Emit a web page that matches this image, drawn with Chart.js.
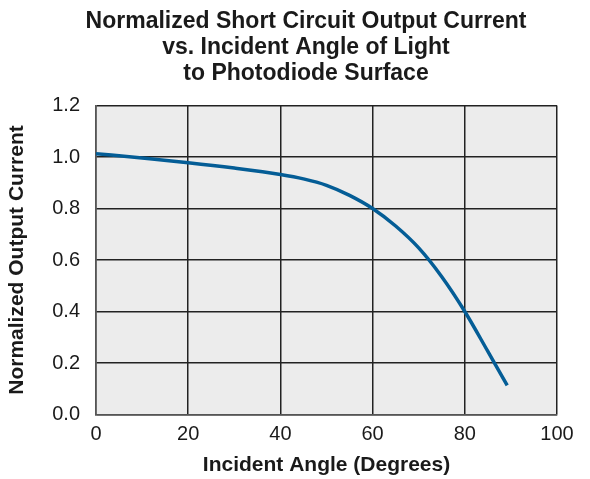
<!DOCTYPE html>
<html>
<head>
<meta charset="utf-8">
<script src="https://cdn.jsdelivr.net/npm/chart.js@4.4.1/dist/chart.umd.min.js"></script>
<style>
  html, body { margin: 0; padding: 0; background: #fff; }
  #wrap { width: 590px; height: 479px; position: relative; }
</style>
</head>
<body>
<div id="wrap"><canvas id="chart"></canvas></div>
<script>
const angles = [0, 10, 20, 30, 40, 45, 50, 55, 60, 65, 70, 75, 80, 85, 89.2];
const current = [1.013, 0.996, 0.978, 0.957, 0.932, 0.915, 0.89, 0.851, 0.80, 0.732, 0.647, 0.535, 0.40, 0.245, 0.113];
const xTicks = [0, 20, 40, 60, 80, 100];
const yTicks = [0, 0.2, 0.4, 0.6, 0.8, 1.0, 1.2];
const titleLines = ['Normalized Short Circuit Output Current', 'vs. Incident Angle of Light', 'to Photodiode Surface'];

const fontFamily = '"Liberation Sans", Arial, Helvetica, sans-serif';

// grey plot background
const plotBackground = {
  id: 'plotBackground',
  beforeDraw(chart) {
    const { ctx, chartArea } = chart;
    ctx.save();
    ctx.fillStyle = '#ececec';
    ctx.fillRect(chartArea.left, chartArea.top, chartArea.right - chartArea.left, chartArea.bottom - chartArea.top);
    ctx.restore();
  },
};

// title is drawn by hand, the built-in one can't be shifted off centre
const chartTitle = {
  id: 'chartTitle',
  afterDraw(chart) {
    const { ctx } = chart;
    ctx.save();
    ctx.fillStyle = '#1a1a1a';
    ctx.font = 'bold 23px ' + fontFamily;
    ctx.textAlign = 'center';
    ctx.textBaseline = 'alphabetic';
    titleLines.forEach((line, i) => ctx.fillText(line, 306, 28 + i * 26));
    ctx.restore();
  },
};

const ctx = document.getElementById('chart').getContext('2d');
new Chart(ctx, {
  type: 'line',
  data: {
    datasets: [
      {
        data: angles.map((a, i) => ({ x: a, y: current[i] })),
        borderColor: '#045d96',
        borderWidth: 3.5,
        pointRadius: 0,
        cubicInterpolationMode: 'monotone',
        fill: false,
      },
    ],
  },
  options: {
    responsive: true,
    maintainAspectRatio: false,
    animation: false,
    layout: { padding: { left: 0, right: 33, top: 105.5, bottom: 0 } },
    scales: {
      x: {
        type: 'linear',
        min: 0,
        max: 100,
        afterBuildTicks(scale) { scale.ticks = xTicks.map(v => ({ value: v })); },
        afterFit(scale) { scale.height = 64.5; },
        grid: { color: '#222', lineWidth: 1.5, drawTicks: false },
        border: { color: '#555', width: 1.5 },
        ticks: { color: '#1a1a1a', padding: 8, font: { family: fontFamily, size: 20 } },
        title: {
          display: true,
          text: 'Incident Angle (Degrees)',
          color: '#1a1a1a',
          padding: { top: 0, bottom: 1.5 },
          font: { family: fontFamily, size: 21, weight: 'bold' },
        },
      },
      y: {
        min: 0,
        max: 1.2,
        afterBuildTicks(scale) { scale.ticks = yTicks.map(v => ({ value: v })); },
        afterFit(scale) { scale.width = 96; },
        grid: { color: '#222', lineWidth: 1.5, drawTicks: false },
        border: { color: '#555', width: 1.5 },
        ticks: {
          color: '#1a1a1a',
          padding: 16,
          font: { family: fontFamily, size: 20 },
          callback: v => v.toFixed(1),
        },
        title: {
          display: true,
          text: 'Normalized Output Current',
          color: '#1a1a1a',
          padding: { top: 5, bottom: 0 },
          font: { family: fontFamily, size: 21, weight: 'bold' },
        },
      },
    },
    plugins: {
      legend: { display: false },
      tooltip: { enabled: false },
      title: { display: false },
    },
  },
  plugins: [plotBackground, chartTitle],
});
</script>
</body>
</html>
